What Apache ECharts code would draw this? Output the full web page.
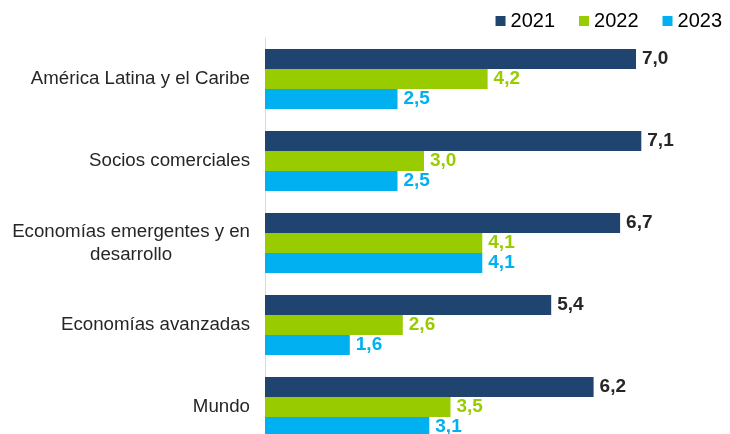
<!DOCTYPE html>
<html><head><meta charset="utf-8">
<script src="https://cdn.jsdelivr.net/npm/echarts@6/dist/echarts.min.js"></script>
<style>html,body{margin:0;padding:0;background:#fff}#c{width:730px;height:434px}</style>
</head><body><div id="c"></div>
<script>
const categories = ['América Latina y el Caribe','Socios comerciales','Economías emergentes y en\ndesarrollo','Economías avanzadas','Mundo'];
const years = ['2021','2022','2023'];
const v2021 = [7.0,7.1,6.7,5.4,6.2];
const v2022 = [4.2,3.0,4.1,2.6,3.5];
const v2023 = [2.5,2.5,4.1,1.6,3.1];
const colors = ['#1F4470','#99CC00','#00B0F0'];
const labelColors = ['#262626','#99CC00','#00B0F0'];
const chart = echarts.init(document.getElementById('c'));
const fmt = p => p.value.toFixed(1).replace('.', ',');
function mk(name, data, i){
  return {name, type:'bar', data, barWidth:20, barGap:'0%', barCategoryGap:'27%',
    itemStyle:{color:colors[i]},
    label:{show:true, position:'right', distance:6, formatter:fmt, color:labelColors[i],
      fontFamily:'Liberation Sans, Arial, sans-serif', fontWeight:'bold', fontSize:19}};
}
chart.setOption({
  animation:false,
  legend:{data:years, right:3, top:6, itemWidth:10, itemHeight:10, itemGap:24,
    icon:'rect', textStyle:{fontFamily:'Liberation Sans, Arial, sans-serif', fontSize:20, color:'#000'}},
  grid:{left:265, top:38, width:424, height:410, containLabel:false, outerBoundsMode:'none'},
  xAxis:{type:'value', min:0, max:8, show:false},
  yAxis:{type:'category', inverse:true, data:categories,
    axisLine:{show:true, lineStyle:{color:'#D9D9D9', width:1}},
    axisTick:{show:false},
    axisLabel:{margin:15, formatter: v => v.split('\n').map(s=>'{a|'+s+'}').join('\n'),
      rich:{a:{align:'center', fontFamily:'Liberation Sans, Arial, sans-serif', fontSize:18.7, color:'#262626', lineHeight:23}}}},
  series:[mk('2021',v2021,0), mk('2022',v2022,1), mk('2023',v2023,2)]
});
</script></body></html>
